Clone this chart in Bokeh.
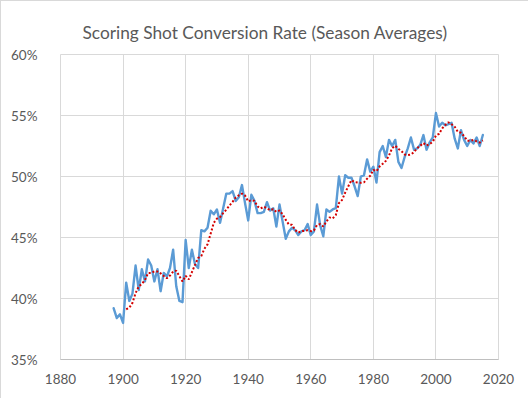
from bokeh.plotting import figure
from bokeh.models import FixedTicker
from bokeh.embed import file_html
from bokeh.resources import INLINE

years = list(range(1897, 2016))
conversion_rate = [
    39.2, 38.4, 38.7, 38.0, 41.3, 39.8, 40.4, 42.7, 40.7, 42.4,   # 1897-1906
    41.4, 43.2, 42.7, 41.4, 42.4, 40.6, 42.1, 41.8, 42.5, 44.0,   # 1907-1916
    41.0, 39.8, 39.7, 44.8, 42.5, 44.0, 42.8, 42.5, 45.6, 45.5,   # 1917-1926
    45.8, 47.2, 46.9, 47.3, 46.2, 47.4, 48.6, 48.6, 48.8, 48.0,   # 1927-1936
    48.3, 49.3, 47.8, 46.4, 48.5, 48.0, 47.0, 47.0, 47.1, 47.9,   # 1937-1946
    47.2, 47.4, 45.9, 47.7, 46.3, 44.9, 45.5, 45.8, 45.6, 45.2,   # 1947-1956
    45.5, 45.6, 46.1, 45.2, 45.5, 47.7, 46.0, 45.1, 47.3, 47.1,   # 1957-1966
    47.3, 47.4, 50.0, 48.6, 50.1, 49.9, 49.9, 49.2, 48.4, 50.0,   # 1967-1976
    50.1, 51.4, 50.4, 50.8, 49.5, 52.0, 52.5, 51.6, 53.0, 52.5,   # 1977-1986
    53.0, 51.2, 50.7, 51.6, 52.3, 53.2, 52.2, 52.3, 52.6, 53.4,   # 1987-1996
    52.2, 52.8, 53.2, 55.2, 54.1, 54.4, 54.2, 54.3, 54.4, 53.1,   # 1997-2006
    52.3, 53.8, 53.0, 52.5, 53.0, 52.7, 53.2, 52.5, 53.4,         # 2007-2015
]

ma_period = 5
ma_years = years[ma_period - 1:]
ma_values = [sum(conversion_rate[i - ma_period + 1:i + 1]) / ma_period
             for i in range(ma_period - 1, len(conversion_rate))]

x_ticks = [1880, 1900, 1920, 1940, 1960, 1980, 2000, 2020]
y_ticks = [35, 40, 45, 50, 55, 60]
y_tick_labels = ["35%", "40%", "45%", "50%", "55%", "60%"]
title_text = "Scoring Shot Conversion Rate (Season Averages)"

FONT = "Lato"
GRID = "#D9D9D9"
TXT = "#595959"

p = figure(width=528, height=398, x_range=(1880, 2020), y_range=(35, 60),
           output_backend="svg", toolbar_location=None,
           min_border_left=59, min_border_right=31,
           min_border_top=53, min_border_bottom=40)
p.frame_width = 438
p.frame_height = 305
p.styles = {"border": "1px solid #D9D9D9", "box-sizing": "border-box"}

p.title.text = title_text
p.title.align = "left"
p.title.offset = 22
p.title.vertical_align = "top"
p.title.text_font = FONT
p.title.text_font_size = "17.3px"
p.title.text_font_style = "normal"
p.title.text_color = TXT
p.title.standoff = 20
if "text_line_height" in p.title.properties():
    p.title.text_line_height = 1.8

p.xaxis.ticker = FixedTicker(ticks=x_ticks)
p.yaxis.ticker = FixedTicker(ticks=y_ticks)
p.yaxis.major_label_overrides = {t: l for t, l in zip(y_ticks, y_tick_labels)}

for ax in (p.xaxis, p.yaxis):
    ax.major_tick_line_color = None
    ax.minor_tick_line_color = None
    ax.major_label_text_font = FONT
    ax.major_label_text_font_size = "13.5px"
    ax.major_label_text_color = TXT
p.yaxis.axis_line_color = None
p.xaxis.axis_line_color = "#BFBFBF"
p.yaxis.major_label_standoff = 17
p.xaxis.major_label_standoff = 8

p.xgrid.grid_line_color = GRID
p.ygrid.grid_line_color = GRID
p.outline_line_color = GRID
p.background_fill_color = "white"
p.border_fill_color = "white"

p.line(years, conversion_rate, line_color="#5B9BD5", line_width=2.4,
       line_join="round", line_cap="round")
p.line(ma_years, ma_values, line_color="#D40000", line_width=2,
       line_dash="2 2")

open("out.html", "w").write(file_html(p, INLINE))
